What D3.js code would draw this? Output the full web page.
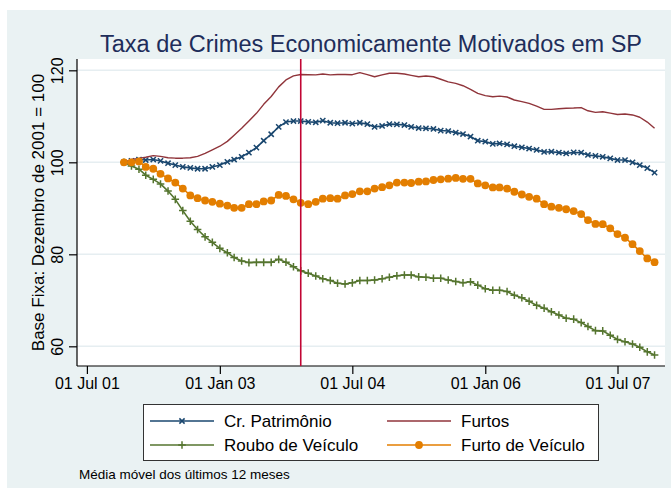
<!DOCTYPE html>
<html>
<head>
<meta charset="utf-8">
<script src="https://cdn.jsdelivr.net/npm/d3@7"></script>
<style>
  body { margin: 0; background: #fff; }
  svg text { font-family: Arial, "Liberation Sans", sans-serif; }
</style>
</head>
<body>
<svg id="chart"></svg>
<script>
// monthly points, Dec 2001 .. Dec 2007 (12 month moving average, Dec 2001 = 100)
const months = d3.utcMonth.range(new Date(Date.UTC(2001, 11, 1)), new Date(Date.UTC(2008, 0, 1)));

const crPatrimonio = [
  100, 100.3, 100.6, 100.5, 100.6, 100.3, 99.8, 99.4, 99.0, 98.8, 98.6, 98.6, 99.0, 99.4, 100.1, 100.6, 101.2, 102.1, 103.2, 104.7, 106.1,
  107.7, 108.75, 108.97, 108.97, 108.8, 108.7, 109.05, 108.6, 108.5, 108.6, 108.4, 108.6, 108.3, 107.7, 107.9, 108.3, 108.25, 108.1, 107.7, 107.45, 107.4,
  107.25, 106.9, 106.8, 106.45, 106.15, 105.6, 104.7, 104.5, 104.0, 104.1, 103.9, 103.5, 103.25, 103.0, 102.7, 102.25, 102.3, 102.1, 101.95, 102.15, 102.1,
  101.6, 101.4, 101.2, 100.85, 100.5, 100.5, 100.0, 99.4, 98.75, 97.75
];
const furtos = [
  100, 100.65, 100.85, 101.1, 101.45, 101.3, 101.0, 100.9, 100.9, 101.0, 101.3, 101.95, 102.7, 103.5, 104.55, 105.9, 107.4, 109.0, 110.65, 112.6, 114.3,
  116.4, 117.9, 118.8, 119.1, 119.05, 119.0, 119.2, 119.0, 119.1, 119.1, 119.05, 119.5, 119.05, 118.6, 119.0, 119.35, 119.35, 119.2, 118.9, 118.6, 118.75,
  118.6, 118.05, 117.5, 117.15, 116.65, 115.85, 115.0, 114.5, 114.25, 114.4, 114.2, 113.55, 113.2, 112.8, 112.2, 111.5, 111.5, 111.65, 111.75, 111.8, 111.9,
  111.2, 110.85, 111.0, 110.7, 110.4, 110.5, 110.3, 109.8, 108.75, 107.4
];
const rouboVeiculo = [
  100, 99.2, 98.5, 97.2, 96.3, 95.3, 93.75, 91.95, 89.5, 87.2, 85.4, 83.8, 82.6, 81.3, 80.35, 79.3, 78.55, 78.2, 78.25, 78.25, 78.25,
  78.9, 78.3, 77.3, 76.4, 75.9, 75.3, 74.7, 74.3, 73.7, 73.55, 73.8, 74.3, 74.3, 74.4, 74.7, 75.0, 75.35, 75.5, 75.5, 75.1, 75.0,
  74.8, 74.8, 74.4, 74.1, 73.8, 74.05, 73.3, 72.5, 72.2, 72.2, 71.9, 71.1, 70.55, 69.8, 68.9, 68.3, 67.5, 66.8, 66.1, 65.9, 65.15,
  64.3, 63.4, 63.35, 62.4, 61.5, 61.0, 60.5, 59.8, 58.8, 58.1
];
const furtoVeiculo = [
  100, 100, 100.2, 99.0, 98.6, 97.5, 96.5, 95.6, 94.3, 92.8, 92.2, 91.7, 91.4, 91.0, 90.6, 90.1, 90.1, 90.9, 90.9, 91.5, 91.7,
  92.9, 92.7, 91.95, 91.2, 90.9, 91.4, 92.1, 92.2, 92.1, 92.8, 93.1, 93.7, 93.7, 94.3, 94.6, 95.0, 95.6, 95.6, 95.5, 95.8, 95.85,
  96.15, 96.3, 96.45, 96.6, 96.4, 96.4, 95.4, 95.0, 94.55, 94.55, 94.3, 93.6, 93.0, 92.5, 92.1, 90.9, 90.35, 90.1, 89.8, 89.4, 88.75,
  87.45, 86.6, 86.55, 85.65, 84.4, 83.6, 82.2, 80.7, 79.1, 78.3
];

const seriesNames = ["Cr. Patrimônio", "Furtos", "Roubo de Veículo", "Furto de Veículo"];
const yTicks = [60, 80, 100, 120];
const xTicks = [Date.UTC(2001, 6, 1), Date.UTC(2003, 0, 1), Date.UTC(2004, 6, 1), Date.UTC(2006, 0, 1), Date.UTC(2007, 6, 1)].map(d => new Date(d));
const breakDate = new Date(Date.UTC(2003, 11, 1));

const width = 671, height = 495;
const plot = { left: 77, right: 665, top: 59, bottom: 366 };

const series = [
  { name: seriesNames[0], values: crPatrimonio, color: "#1a476f", marker: "x", lw: 1.6 },
  { name: seriesNames[1], values: furtos, color: "#90353b", marker: null, lw: 1.4 },
  { name: seriesNames[2], values: rouboVeiculo, color: "#55752f", marker: "+", lw: 1.6 },
  { name: seriesNames[3], values: furtoVeiculo, color: "#e37e00", marker: "o", lw: 1.6 }
];

const x = d3.scaleUtc()
  .domain([xTicks[0], xTicks[xTicks.length - 1]])
  .range([86.9, 617.5]);
const y = d3.scaleLinear()
  .domain([55.72, 122.46])
  .range([plot.bottom, plot.top]);

const svg = d3.select("#chart").attr("width", width).attr("height", height);

// graph region background
svg.append("rect").attr("x", 7).attr("y", 10).attr("width", width - 7).attr("height", 478)
  .attr("fill", "#eaf2f3");

// plot region
svg.append("rect").attr("x", plot.left).attr("y", plot.top)
  .attr("width", plot.right - plot.left).attr("height", plot.bottom - plot.top)
  .attr("fill", "#fff");

// grid
svg.append("g").selectAll("line").data(yTicks).join("line")
  .attr("x1", plot.left).attr("x2", plot.right)
  .attr("y1", d => y(d)).attr("y2", d => y(d))
  .attr("stroke", "#e6eef1").attr("stroke-width", 1.5);

// title
svg.append("text")
  .attr("x", 371).attr("y", 52)
  .attr("text-anchor", "middle")
  .attr("font-size", 23.5)
  .attr("fill", "#1e2d5a")
  .text("Taxa de Crimes Economicamente Motivados em SP");

// y axis
const gy = svg.append("g")
  .attr("transform", `translate(${plot.left},0)`)
  .call(d3.axisLeft(y).tickValues(yTicks).tickSize(8).tickPadding(0));
gy.select(".domain").attr("d", `M0,${plot.top}V${plot.bottom}`).attr("stroke", "#000").attr("stroke-width", 1.2);
gy.selectAll(".tick line").attr("stroke", "#000").attr("stroke-width", 1.2);
gy.selectAll(".tick text")
  .attr("x", 0).attr("y", -14).attr("dy", 0)
  .attr("transform", "rotate(-90)")
  .attr("text-anchor", "middle")
  .attr("font-size", 16).attr("font-family", null).attr("fill", "#000");

svg.append("text")
  .attr("transform", `translate(43.5,${(plot.top + plot.bottom) / 2}) rotate(-90)`)
  .attr("text-anchor", "middle")
  .attr("font-size", 17)
  .attr("fill", "#000")
  .text("Base Fixa: Dezembro de 2001 = 100");

// x axis
const gx = svg.append("g")
  .attr("transform", `translate(0,${plot.bottom})`)
  .call(d3.axisBottom(x).tickValues(xTicks).tickSize(8).tickPadding(4).tickFormat(d3.utcFormat("%d %b %y")));
gx.select(".domain").attr("d", `M${plot.left},0H${plot.right}`).attr("stroke", "#000").attr("stroke-width", 1.2);
gx.selectAll(".tick line").attr("stroke", "#000").attr("stroke-width", 1.2);
gx.selectAll(".tick text").attr("font-size", 16).attr("font-family", null).attr("fill", "#000");

// markers
const markerPath = {
  "x": "M-2.6,-2.6L2.6,2.6M-2.6,2.6L2.6,-2.6",
  "+": "M-3.8,0H3.8M0,-3.8V3.8"
};
function drawMarkers(g, s, pts) {
  if (s.marker === "o") {
    g.selectAll("circle").data(pts).join("circle")
      .attr("cx", d => d[0]).attr("cy", d => d[1]).attr("r", 3.9)
      .attr("fill", s.color);
  } else if (s.marker) {
    g.selectAll("path.mk").data(pts).join("path").attr("class", "mk")
      .attr("transform", d => `translate(${d[0]},${d[1]})`)
      .attr("d", markerPath[s.marker])
      .attr("stroke", s.color).attr("stroke-width", 1.5).attr("fill", "none");
  }
}

const line = d3.line().x(d => x(d[0])).y(d => y(d[1]));
series.forEach(s => {
  const data = months.map((m, i) => [m, s.values[i]]);
  const g = svg.append("g");
  g.append("path").datum(data).attr("d", line)
    .attr("fill", "none").attr("stroke", s.color).attr("stroke-width", s.lw)
    .attr("stroke-linejoin", "round");
  drawMarkers(g, s, data.map(d => [x(d[0]), y(d[1])]));
});

// vertical reference line
svg.append("line")
  .attr("x1", x(breakDate)).attr("x2", x(breakDate))
  .attr("y1", plot.top).attr("y2", plot.bottom)
  .attr("stroke", "#c10534").attr("stroke-width", 1.6);

// legend
const legend = svg.append("g");
legend.append("rect").attr("x", 143.5).attr("y", 404.5).attr("width", 455).attr("height", 56)
  .attr("fill", "#fff").attr("stroke", "#333").attr("stroke-width", 1);
const legendPos = [[150, 421], [387, 421], [150, 445], [387, 445]];
series.forEach((s, i) => {
  const [lx, ly] = legendPos[i];
  const g = legend.append("g");
  g.append("line").attr("x1", lx).attr("x2", lx + 64).attr("y1", ly).attr("y2", ly)
    .attr("stroke", s.color).attr("stroke-width", s.lw);
  drawMarkers(g, s, [[lx + 32, ly]]);
  g.append("text").attr("x", lx + 74).attr("y", ly + 6)
    .attr("font-size", 17).attr("fill", "#000").text(s.name);
});

// note
svg.append("text").attr("x", 79).attr("y", 479)
  .attr("font-size", 13.5).attr("fill", "#000")
  .text("Média móvel dos últimos 12 meses");
</script>
</body>
</html>
